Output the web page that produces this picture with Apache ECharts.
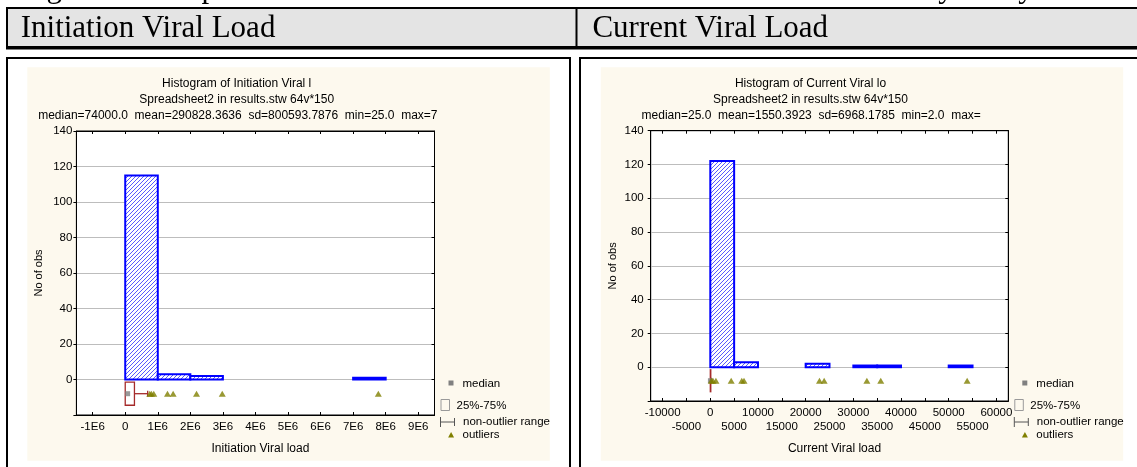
<!DOCTYPE html>
<html><head><meta charset="utf-8">
<script src="https://cdn.jsdelivr.net/npm/echarts@6/dist/echarts.min.js"></script>
<style>html,body{margin:0;padding:0;background:#fff}#c{width:1137px;height:467px}</style>
</head><body><div id="c"></div>
<script>
// ================= DATA =================
const captionText = 'Figure 4: Comparison of Viral Load at Initiation and Current Viral Load by Study';
const headers = ['Initiation Viral Load', 'Current Viral Load'];

// --- Initiation viral load histogram ---
const initTitle = ['Histogram of Initiation Viral l', 'Spreadsheet2 in results.stw 64v*150',
  'median=74000.0  mean=290828.3636  sd=800593.7876  min=25.0  max=7'];
const initXName = 'Initiation Viral load';
const initBinStart = [0, 1000000, 2000000, 7000000];
const initBinEnd = [1000000, 2000000, 3000000, 8000000];
const initCounts = [115, 3, 2, 1];
const initXTicks = [-1000000, 0, 1000000, 2000000, 3000000, 4000000, 5000000, 6000000, 7000000, 8000000, 9000000];
const initXTickLabels = ['-1E6', '0', '1E6', '2E6', '3E6', '4E6', '5E6', '6E6', '7E6', '8E6', '9E6'];
const initQuartiles = [0, 283000];
const initMedian = 74000;
const initRange = [25, 690000];
const initOutliers = [754000, 805000, 877000, 1298000, 1471000, 2190000, 2980000, 7775000];

// --- Current viral load histogram ---
const currTitle = ['Histogram of Current Viral lo', 'Spreadsheet2 in results.stw 64v*150',
  'median=25.0  mean=1550.3923  sd=6968.1785  min=2.0  max='];
const currXName = 'Current Viral load';
const currBinStart = [0, 5000, 20000, 30000, 35000, 50000];
const currBinEnd = [5000, 10000, 25000, 35000, 40000, 55000];
const currCounts = [122, 3, 2, 1, 1, 1];
const currXTicks = [-10000, -5000, 0, 5000, 10000, 15000, 20000, 25000, 30000, 35000, 40000, 45000, 50000, 55000, 60000];
const currXTickLabels = ['-10000', '-5000', '0', '5000', '10000', '15000', '20000', '25000', '30000', '35000', '40000', '45000', '50000', '55000', '60000'];
const currQuartiles = [2, 100];
const currMedian = 25;
const currRange = [2, 150];
const currOutliers = [200, 570, 1180, 4380, 6600, 7070, 22900, 23880, 32840, 35750, 53870];

const yTickLabels = ['0', '20', '40', '60', '80', '100', '120', '140'];
const yName = 'No of obs';
const legendLabels = ['median', '25%-75%', 'non-outlier range', 'outliers'];

// ================= LAYOUT / STYLE =================
const SANS = '"Liberation Sans", Arial, sans-serif';
const SERIF = '"Liberation Serif", "Times New Roman", serif';
const BEIGE = '#fdf9ee';
const BLUE = '#0000ff';
const BOXRED = '#a52a2a';
const OLIVE = '#808000';
const GREY = '#808080';
const BOX_MID = -8, BOX_TOP = -1.5, BOX_BOT = -14.5;

const panels = [
  { L: 76.4, T: 131, W: 358.1, H: 284, xmin: -1500000, xmax: 9500000, ticks: initXTicks, tickLabels: initXTickLabels,
    title: initTitle, titleCx: 236.7, line3x: 38.2, xName: initXName, xNameGap: 28, twoRow: false, labelMargin: 4,
    bins: [initBinStart, initBinEnd, initCounts], q: initQuartiles, med: initMedian, rng: initRange, out: initOutliers },
  { L: 650.7, T: 130.7, W: 357.6, H: 270.3, xmin: -12500, xmax: 62500, ticks: currXTicks, tickLabels: currXTickLabels,
    title: currTitle, titleCx: 810.5, line3x: 641.6, xName: currXName, xNameGap: 42, twoRow: true, labelMargin: 7,
    bins: [currBinStart, currBinEnd, currCounts], q: currQuartiles, med: currMedian, rng: currRange, out: currOutliers }
];

function makeHatch() {
  const c = document.createElement('canvas'); c.width = 4; c.height = 4;
  const g = c.getContext('2d');
  g.fillStyle = '#ffffff'; g.fillRect(0, 0, 4, 4);
  g.strokeStyle = '#4646ff'; g.lineWidth = 0.9;
  g.beginPath();
  g.moveTo(-1, 5); g.lineTo(5, -1);
  g.moveTo(-1, 1); g.lineTo(1, -1);
  g.moveTo(3, 5); g.lineTo(5, 3);
  g.stroke();
  return c;
}
const hatch = makeHatch();

const chart = echarts.init(document.getElementById('c'), null, { renderer: 'canvas' });

const grids = [], xAxes = [], yAxes = [], series = [], graphics = [];

function rect(x, y, w, h, fill, z) {
  graphics.push({ type: 'rect', z: z == null ? -10 : z, silent: true, shape: { x, y, width: w, height: h }, style: { fill } });
}
function text(x, y, t, font, align, z) {
  graphics.push({ type: 'text', z: z == null ? 10 : z, silent: true, x, y,
    style: { text: t, font, fill: '#000', align: align || 'left', verticalAlign: 'middle' } });
}

// table frame
text(20.7, -11.5, captionText, '31px ' + SERIF);
rect(8, 9, 1129, 37, '#e4e4e4');
rect(6, 7, 1131, 2, '#000', -9);
rect(6, 7, 2, 42, '#000', -9);
rect(6, 46, 1131, 3.5, '#000', -9);
rect(575.5, 9, 2, 37, '#000', -9);
text(20.7, 29, headers[0], '31px ' + SERIF);
text(592.4, 29, headers[1], '31px ' + SERIF);
rect(6, 57, 565, 2, '#000', -9);
rect(6, 57, 2, 410, '#000', -9);
rect(569, 57, 2, 410, '#000', -9);
rect(579, 57, 558, 2, '#000', -9);
rect(579, 57, 2, 410, '#000', -9);
rect(27.3, 67.3, 522.5, 393.4, BEIGE);
rect(600.8, 67.3, 522.4, 393.4, BEIGE);

panels.forEach((p, k) => {
  grids.push({ left: p.L, top: p.T, width: p.W, height: p.H, show: true, backgroundColor: '#ffffff',
    borderColor: '#000', borderWidth: 1, containLabel: false });
  const labelOf = v => { const i = p.ticks.indexOf(v); return i >= 0 ? p.tickLabels[i] : ''; };
  const rowA = p.twoRow ? p.ticks.filter((v, i) => i % 2 === 0) : p.ticks;
  const rowB = p.twoRow ? p.ticks.filter((v, i) => i % 2 === 1) : [];
  const xi = xAxes.length;
  xAxes.push({
    type: 'value', gridIndex: k, position: 'bottom', min: p.xmin, max: p.xmax,
    axisLine: { show: true, onZero: false, lineStyle: { color: '#000', width: 1 } },
    axisTick: { show: true, inside: true, length: 3, customValues: p.ticks, lineStyle: { color: '#000' } },
    axisLabel: { show: true, customValues: rowA, margin: 6, color: '#000', fontFamily: SANS, fontSize: 11.5,
      showMinLabel: true, showMaxLabel: true, formatter: v => labelOf(v) },
    splitLine: { show: false },
    name: p.xName, nameLocation: 'middle', nameGap: p.xNameGap,
    nameTextStyle: { color: '#000', fontFamily: SANS, fontSize: 12, padding: [0, 0, 0, 10] }
  });
  xAxes.push({
    type: 'value', gridIndex: k, position: 'top', min: p.xmin, max: p.xmax,
    axisLine: { show: true, onZero: false, lineStyle: { color: '#000' } },
    axisTick: { show: true, inside: true, length: 3, customValues: p.ticks, lineStyle: { color: '#000' } },
    axisLabel: { show: false }, splitLine: { show: false }
  });
  if (p.twoRow) {
    xAxes.push({
      type: 'value', gridIndex: k, position: 'bottom', offset: 0, min: p.xmin, max: p.xmax,
      axisLine: { show: false, onZero: false }, axisTick: { show: false },
      axisLabel: { show: true, customValues: rowB, margin: 19.5, color: '#000', fontFamily: SANS, fontSize: 11.5,
        showMinLabel: true, showMaxLabel: true, formatter: v => labelOf(v) },
      splitLine: { show: false }
    });
  }
  const yi = yAxes.length;
  yAxes.push({
    type: 'value', gridIndex: k, position: 'left', min: -20, max: 140, interval: 20,
    axisLine: { show: true, onZero: false, lineStyle: { color: '#000' } },
    axisTick: { show: true, inside: false, length: 3, lineStyle: { color: '#000' } },
    axisLabel: { margin: p.labelMargin, color: '#000', fontFamily: SANS, fontSize: 11.5,
      showMinLabel: true, showMaxLabel: true,
      formatter: v => { const i = Math.round(v / 20); return i >= 0 ? yTickLabels[i] : ''; } },
    splitLine: { show: true, lineStyle: { color: '#bdbdbd', width: 1 } },
    name: yName, nameLocation: 'middle', nameGap: 32,
    nameTextStyle: { color: '#000', fontFamily: SANS, fontSize: 11 }
  });
  yAxes.push({
    type: 'value', gridIndex: k, position: 'right', min: -20, max: 140, interval: 20,
    axisLine: { show: true, onZero: false, lineStyle: { color: '#000' } },
    axisTick: { show: true, inside: true, length: 3, lineStyle: { color: '#000' } },
    axisLabel: { show: false }, splitLine: { show: false }
  });

  // histogram bars
  const [bs, be, bc] = p.bins;
  series.push({
    type: 'custom', xAxisIndex: xi, yAxisIndex: yi, z: 3,
    data: bs.map((s, i) => [s, be[i], bc[i]]),
    encode: { x: [0, 1], y: 2 },
    renderItem: (params, api) => {
      const p0 = api.coord([api.value(0), api.value(2)]);
      const p1 = api.coord([api.value(1), 0]);
      return { type: 'rect', shape: { x: p0[0], y: p0[1], width: p1[0] - p0[0], height: p1[1] - p0[1] },
        style: { fill: { image: hatch, repeat: 'repeat' }, stroke: BLUE, lineWidth: 2 } };
    }
  });
  // box (25%-75%) and non-outlier range
  series.push({
    type: 'custom', xAxisIndex: xi, yAxisIndex: yi, z: 4,
    data: [[p.q[0], p.q[1], p.rng[0], p.rng[1]]],
    renderItem: (params, api) => {
      const a = api.coord([api.value(0), BOX_TOP]);
      const b = api.coord([api.value(1), BOX_BOT]);
      const lo = api.coord([api.value(2), BOX_MID]);
      const hi = api.coord([api.value(3), BOX_MID]);
      const st = { stroke: BOXRED, lineWidth: 1.3, fill: null };
      return { type: 'group', children: [
        { type: 'rect', shape: { x: a[0], y: a[1], width: Math.max(b[0] - a[0], 0.1), height: b[1] - a[1] }, style: st },
        { type: 'line', shape: { x1: b[0], y1: hi[1], x2: hi[0], y2: hi[1] }, style: { stroke: BOXRED, lineWidth: 1.3 } },
        { type: 'line', shape: { x1: hi[0], y1: hi[1] - 3, x2: hi[0], y2: hi[1] + 3 }, style: { stroke: BOXRED, lineWidth: 1.3 } },
        { type: 'line', shape: { x1: lo[0], y1: lo[1], x2: a[0], y2: lo[1] }, style: { stroke: BOXRED, lineWidth: 1.3 } }
      ] };
    }
  });
  series.push({
    type: 'scatter', xAxisIndex: xi, yAxisIndex: yi, z: 5, symbol: 'rect', symbolSize: 5,
    itemStyle: { color: GREY }, data: [[p.med, BOX_MID]], silent: true
  });
  series.push({
    type: 'scatter', xAxisIndex: xi, yAxisIndex: yi, z: 6, symbol: 'triangle', symbolSize: [7, 6],
    itemStyle: { color: OLIVE }, data: p.out.map(v => [v, BOX_MID]), silent: true
  });

  // titles
  text(p.titleCx, 84, p.title[0], '12px ' + SANS, 'center');
  text(p.titleCx, 100, p.title[1], '12px ' + SANS, 'center');
  text(p.line3x, 116, p.title[2], '12px ' + SANS, 'left');

  // legend
  const R = p.L + p.W;
  const lf = '11.5px ' + SANS;
  graphics.push({ type: 'rect', z: 10, silent: true, shape: { x: R + 14, y: 380.5, width: 5, height: 5 }, style: { fill: GREY } });
  text(R + 28, 383.5, legendLabels[0], lf);
  graphics.push({ type: 'rect', z: 10, silent: true, shape: { x: R + 6.5, y: 399.5, width: 8.5, height: 11 }, style: { fill: null, stroke: '#9a9a9a', lineWidth: 1 } });
  text(R + 22, 406, legendLabels[1], lf);
  graphics.push({ type: 'group', z: 10, silent: true, children: [
    { type: 'line', shape: { x1: R + 6, y1: 422, x2: R + 20, y2: 422 }, style: { stroke: '#555', lineWidth: 1 } },
    { type: 'line', shape: { x1: R + 6, y1: 417, x2: R + 6, y2: 427 }, style: { stroke: '#555', lineWidth: 1 } },
    { type: 'line', shape: { x1: R + 20, y1: 418, x2: R + 20, y2: 426 }, style: { stroke: '#555', lineWidth: 1 } }
  ] });
  text(R + 28.5, 422, legendLabels[2], lf);
  graphics.push({ type: 'polygon', z: 10, silent: true, shape: { points: [[R + 16.6, 432], [R + 19.6, 437.5], [R + 13.6, 437.5]] }, style: { fill: OLIVE } });
  text(R + 28, 435, legendLabels[3], lf);
});

chart.setOption({
  animation: false,
  backgroundColor: '#ffffff',
  grid: grids, xAxis: xAxes, yAxis: yAxes, series: series,
  graphic: { elements: graphics }
});
</script></body></html>
